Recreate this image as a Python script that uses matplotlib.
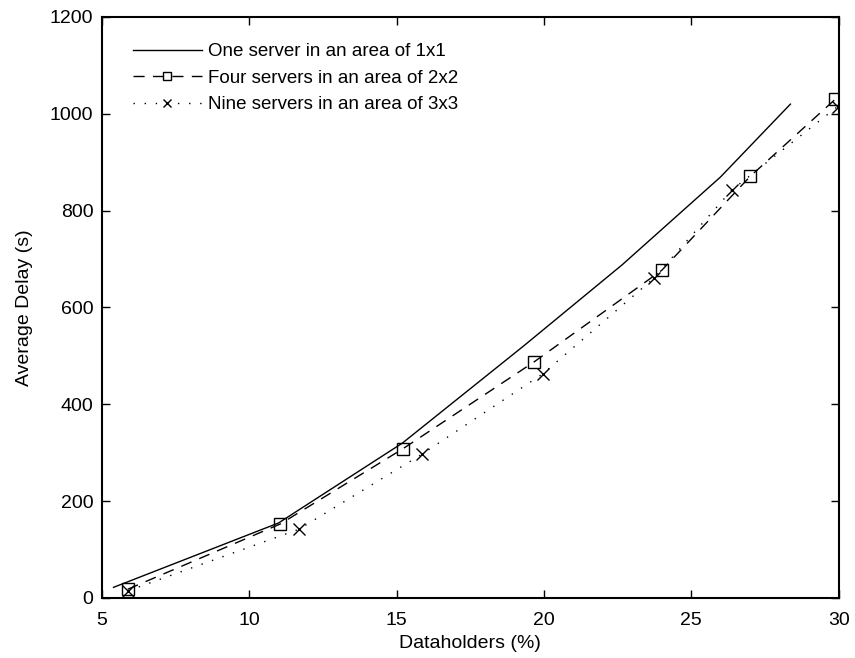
import matplotlib
matplotlib.use("Agg")
import matplotlib.pyplot as plt

plt.rcParams['font.family'] = ['Liberation Sans', 'DejaVu Sans']

# One server in an area of 1x1
x_one = [5.4, 11.0, 15.2, 19.3, 22.65, 25.98, 28.36]
y_one = [22, 155, 320, 520, 688, 869, 1020]

# Four servers in an area of 2x2
x_four = [5.88, 11.06, 15.21, 19.65, 24.0, 27.0, 29.88]
y_four = [18, 153, 308, 487, 677, 871, 1030]

# Nine servers in an area of 3x3
x_nine = [5.9, 11.69, 15.86, 19.96, 23.72, 26.38, 29.96]
y_nine = [15, 142, 297, 463, 660, 843, 1015]

labels = ["One server in an area of 1x1",
          "Four servers in an area of 2x2",
          "Nine servers in an area of 3x3"]

xticks = [5, 10, 15, 20, 25, 30]
yticks = [0, 200, 400, 600, 800, 1000, 1200]

fig = plt.figure(figsize=(8.55, 6.58), dpi=100)
ax = fig.add_axes([0.119, 0.0912, 0.862, 0.883])

ax.plot(x_one, y_one, color='black', lw=1.0, ls='-', label=labels[0])
ax.plot(x_four, y_four, color='black', lw=1.0, ls=(0, (8, 6)),
        marker='s', ms=8, mfc='none', mec='black', mew=1.0, label=labels[1])
ax.plot(x_nine, y_nine, color='black', lw=1.0, ls=(0, (1, 7)),
        marker='x', ms=8, mec='black', mew=1.0, label=labels[2])

ax.set_xlim(5, 30)
ax.set_ylim(0, 1200)
ax.set_xticks(xticks)
ax.set_yticks(yticks)
ax.tick_params(direction='in', length=6, width=1.0, top=True, right=True,
               labelsize=14)
ax.tick_params(axis='x', pad=10)
ax.tick_params(axis='y', pad=6)
for s in ax.spines.values():
    s.set_linewidth(1.5)

ax.set_xlabel("Dataholders (%)", fontsize=14, labelpad=4.5)
ax.set_ylabel("Average Delay (s)", fontsize=14, labelpad=12.5)

leg = ax.legend(loc='upper left', frameon=False, fontsize=13.5,
                handlelength=3.68, handletextpad=0.32, labelspacing=0.5,
                bbox_to_anchor=(0.032, 0.968), borderaxespad=0.0,
                markerscale=0.8)

fig.savefig("out.png", dpi=100)
